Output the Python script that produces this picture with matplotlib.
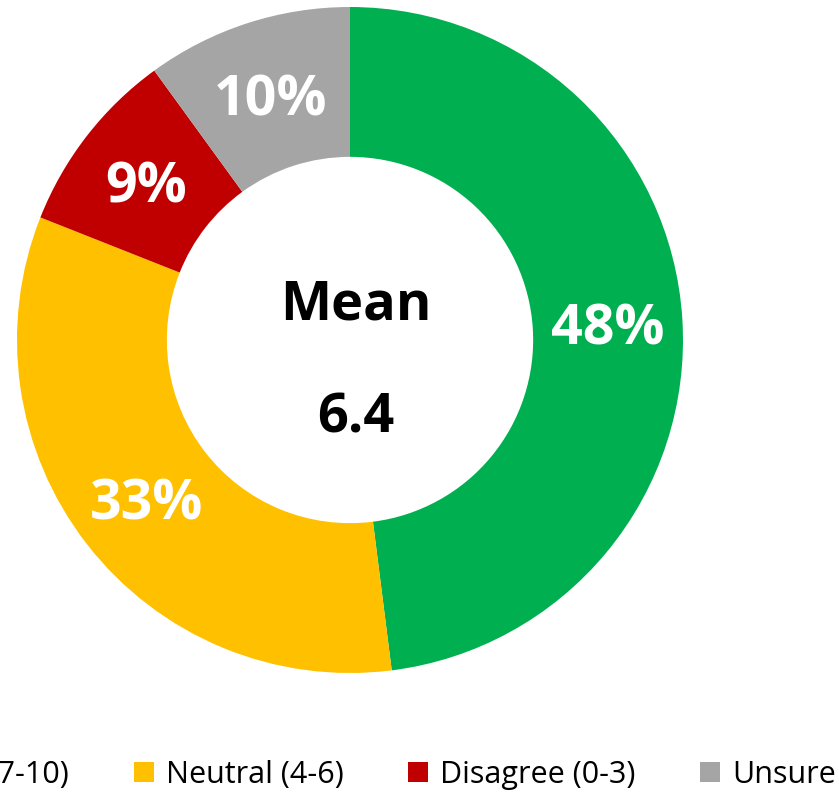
import matplotlib
matplotlib.use('Agg')
import matplotlib.pyplot as plt

plt.rcParams['font.family'] = ['Open Sans', 'DejaVu Sans']

# ── Data ──────────────────────────────────────────────────────────────────────
categories = ['Agree (7-10)', 'Neutral (4-6)', 'Disagree (0-3)', 'Unsure']
shares     = [48, 33, 9, 10]
colors     = ['#00B050', '#FFC000', '#C00000', '#A5A5A5']
mean_label = 'Mean'
mean_value = 6.4

# ── Figure ────────────────────────────────────────────────────────────────────
W, H = 839, 792
fig = plt.figure(figsize=(W / 100, H / 100), dpi=100)
# square axes box: centre (350, 340) px, radius 333 px
ax = fig.add_axes([17 / W, (H - 673) / H, 666 / W, 666 / H])

wedges, texts, autotexts = ax.pie(
    shares, colors=colors, startangle=90, counterclock=False,
    radius=1.0, wedgeprops=dict(width=0.45, linewidth=0),
    autopct='%d%%', pctdistance=0.775,
    textprops=dict(color='white', fontsize=40, fontweight='bold'),
)
for t in autotexts:
    t.set_va('center_baseline')

ax.text(0.017, 0.063, mean_label, ha='center', va='baseline',
        fontsize=39, fontweight='bold', color='black')
ax.text(0.018, -0.279, f'{mean_value}', ha='center', va='baseline',
        fontsize=39, fontweight='bold', color='black')
ax.set_xlim(-1, 1)
ax.set_ylim(-1, 1)
ax.set_aspect('equal')
ax.axis('off')

# legend runs off both edges, like the reference crop
fig.legend(wedges, categories, loc='center', ncol=4, frameon=False,
           bbox_to_anchor=(351 / W, 1 - 775 / H), fontsize=22,
           handlelength=0.65, handleheight=0.65, handletextpad=0.39,
           columnspacing=2.12)

fig.savefig('out.png', dpi=100)
